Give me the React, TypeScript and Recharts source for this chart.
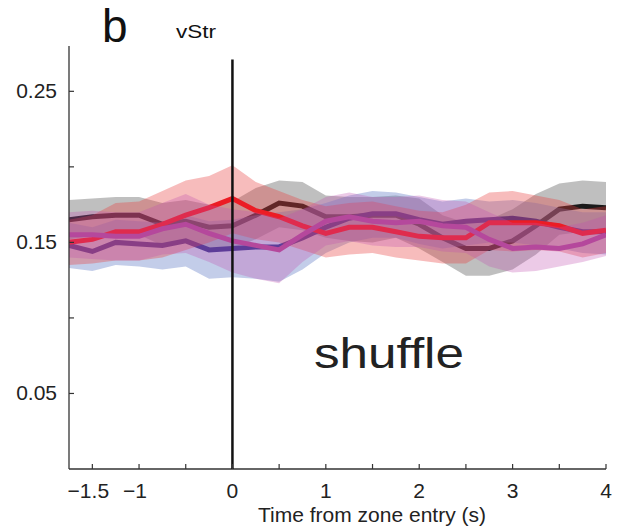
import React from "react"
import { ComposedChart, Area, Line, XAxis, YAxis, ReferenceLine } from "recharts"

// time bins (s from zone entry)
const times = [-1.75, -1.5, -1.25, -1, -0.75, -0.5, -0.25, 0, 0.25, 0.5, 0.75, 1, 1.25, 1.5, 1.75, 2, 2.25, 2.5, 2.75, 3, 3.25, 3.5, 3.75, 4]

// black series + gray band
const blackMean = [0.165, 0.167, 0.168, 0.168, 0.162, 0.164, 0.160, 0.161, 0.168, 0.176, 0.174, 0.167, 0.167, 0.168, 0.168, 0.162, 0.153, 0.146, 0.146, 0.151, 0.161, 0.172, 0.174, 0.173]
const blackHi = [0.178, 0.179, 0.180, 0.180, 0.176, 0.178, 0.175, 0.177, 0.186, 0.191, 0.190, 0.181, 0.180, 0.180, 0.181, 0.179, 0.168, 0.163, 0.165, 0.172, 0.182, 0.189, 0.191, 0.190]
const blackLo = [0.152, 0.154, 0.155, 0.155, 0.148, 0.150, 0.146, 0.146, 0.152, 0.160, 0.158, 0.153, 0.151, 0.150, 0.153, 0.146, 0.137, 0.128, 0.128, 0.132, 0.142, 0.155, 0.157, 0.157]

// blue series
const blueMean = [0.148, 0.144, 0.150, 0.149, 0.148, 0.151, 0.145, 0.146, 0.147, 0.147, 0.153, 0.160, 0.166, 0.169, 0.169, 0.165, 0.162, 0.164, 0.165, 0.166, 0.164, 0.160, 0.157, 0.157]
const blueHi = [0.163, 0.160, 0.165, 0.164, 0.163, 0.168, 0.164, 0.165, 0.168, 0.170, 0.172, 0.176, 0.181, 0.184, 0.183, 0.180, 0.177, 0.179, 0.177, 0.178, 0.176, 0.173, 0.170, 0.170]
const blueLo = [0.133, 0.131, 0.135, 0.134, 0.132, 0.134, 0.126, 0.127, 0.126, 0.124, 0.132, 0.143, 0.150, 0.153, 0.153, 0.149, 0.146, 0.148, 0.150, 0.150, 0.148, 0.146, 0.143, 0.142]

// red series
const redMean = [0.150, 0.152, 0.157, 0.157, 0.162, 0.168, 0.173, 0.179, 0.171, 0.167, 0.161, 0.156, 0.160, 0.160, 0.157, 0.154, 0.153, 0.153, 0.163, 0.163, 0.163, 0.161, 0.156, 0.158]
const redHi = [0.165, 0.168, 0.176, 0.177, 0.184, 0.191, 0.194, 0.201, 0.190, 0.184, 0.178, 0.174, 0.176, 0.177, 0.174, 0.171, 0.170, 0.175, 0.183, 0.184, 0.181, 0.178, 0.172, 0.174]
const redLo = [0.135, 0.136, 0.138, 0.138, 0.140, 0.145, 0.150, 0.156, 0.152, 0.150, 0.145, 0.140, 0.142, 0.143, 0.140, 0.138, 0.136, 0.136, 0.145, 0.144, 0.145, 0.144, 0.140, 0.143]

// magenta series
const magMean = [0.155, 0.155, 0.154, 0.154, 0.159, 0.162, 0.156, 0.151, 0.148, 0.145, 0.155, 0.164, 0.167, 0.164, 0.163, 0.164, 0.161, 0.160, 0.152, 0.146, 0.147, 0.146, 0.149, 0.155]
const magHi = [0.170, 0.171, 0.170, 0.170, 0.176, 0.182, 0.175, 0.172, 0.170, 0.166, 0.172, 0.180, 0.183, 0.180, 0.180, 0.181, 0.178, 0.177, 0.170, 0.163, 0.163, 0.160, 0.163, 0.168]
const magLo = [0.140, 0.139, 0.138, 0.138, 0.142, 0.143, 0.137, 0.130, 0.126, 0.123, 0.137, 0.148, 0.151, 0.148, 0.147, 0.147, 0.144, 0.143, 0.134, 0.130, 0.131, 0.134, 0.137, 0.141]

const xTicks = [-1.5, -1, -0.5, 0, 0.5, 1, 1.5, 2, 2.5, 3, 3.5, 4]
const xLabeled = [-1.5, -1, 0, 1, 2, 3, 4]
const yTicks = [0.05, 0.1, 0.15, 0.2, 0.25]
const yLabeled = [0.05, 0.15, 0.25]

const FONT = '"Liberation Sans", Arial, sans-serif'

const data = times.map((t, i) => ({
  t,
  black: blackMean[i],
  blackBand: [blackLo[i], blackHi[i]],
  blue: blueMean[i],
  blueBand: [blueLo[i], blueHi[i]],
  red: redMean[i],
  redBand: [redLo[i], redHi[i]],
  mag: magMean[i],
  magBand: [magLo[i], magHi[i]],
}))

const fmtMinus = (v: number) => String(v).replace("-", "\u2212")

function XTick(props: any) {
  const { x, y, payload } = props
  const v = payload.value
  return (
    <g>
      <line x1={x} y1={y} x2={x} y2={y - 5} stroke="#333" strokeWidth={1.2} />
      {xLabeled.includes(v) && (
        <text x={x} y={y + 29} dx={v < 0 ? -4 : 0} textAnchor="middle" fontSize={21} fontFamily={FONT} fill="#222">
          {fmtMinus(v)}
        </text>
      )}
    </g>
  )
}

function YTick(props: any) {
  const { x, y, payload } = props
  const v = payload.value
  return (
    <g>
      <line x1={x} y1={y} x2={x + 5} y2={y} stroke="#333" strokeWidth={1.2} />
      {yLabeled.some((l) => Math.abs(l - v) < 1e-9) && (
        <text x={x - 12} y={y + 7} textAnchor="end" fontSize={21} fontFamily={FONT} fill="#222">
          {v.toFixed(2)}
        </text>
      )}
    </g>
  )
}

export default function App() {
  return (
    <div style={{ position: "absolute", left: 0, top: 0, width: 624, height: 527, background: "#fff" }}>
      <ComposedChart width={624} height={527} data={data} margin={{ top: 46, right: 18, bottom: 18, left: 9 }}>
        <Area zIndex={101} type="linear" dataKey="blackBand" stroke="none" fill="#8a8a8a" fillOpacity={0.55} isAnimationActive={false} activeDot={false} />
        <Line zIndex={102} type="linear" dataKey="black" stroke="#1a1a1a" strokeWidth={5} dot={false} activeDot={false} isAnimationActive={false} />
        <Area zIndex={103} type="linear" dataKey="blueBand" stroke="none" fill="#6a82c8" fillOpacity={0.4} isAnimationActive={false} activeDot={false} />
        <Line zIndex={104} type="linear" dataKey="blue" stroke="#33348f" strokeWidth={5} dot={false} activeDot={false} isAnimationActive={false} />
        <Area zIndex={105} type="linear" dataKey="redBand" stroke="none" fill="#e84040" fillOpacity={0.35} isAnimationActive={false} activeDot={false} />
        <Line zIndex={106} type="linear" dataKey="red" stroke="#ec1c24" strokeWidth={5} dot={false} activeDot={false} isAnimationActive={false} />
        <Area zIndex={107} type="linear" dataKey="magBand" stroke="none" fill="#c050b0" fillOpacity={0.3} isAnimationActive={false} activeDot={false} />
        <Line zIndex={108} type="linear" dataKey="mag" stroke="#b5489c" strokeWidth={5} dot={false} activeDot={false} isAnimationActive={false} />
        <ReferenceLine
          zIndex={600}
          segment={[{ x: 0, y: 0 }, { x: 0, y: 0.271 }]}
          stroke="#111"
          strokeWidth={2.5}
        />
        <XAxis
          dataKey="t"
          type="number"
          domain={[-1.75, 4]}
          ticks={xTicks}
          interval={0}
          height={40}
          tickSize={0}
          tickMargin={0}
          tickLine={false}
          axisLine={{ stroke: "#333", strokeWidth: 1.3 }}
          tick={<XTick />}
          allowDataOverflow
        />
        <YAxis
          type="number"
          domain={[0, 0.28]}
          ticks={yTicks}
          interval={0}
          width={60}
          tickSize={0}
          tickMargin={0}
          tickLine={false}
          axisLine={{ stroke: "#333", strokeWidth: 1.3 }}
          tick={<YTick />}
          allowDataOverflow
        />
      </ComposedChart>
      <svg width={624} height={527} style={{ position: "absolute", left: 0, top: 0, pointerEvents: "none" }}>
        <text x={102} y={42} fontSize={46} fontFamily={FONT} fill="#111">b</text>
        <text x={176} y={38} fontSize={19} textLength={40} lengthAdjust="spacingAndGlyphs" fontFamily={FONT} fill="#111">vStr</text>
        <text x={314} y={368} fontSize={42} textLength={150} lengthAdjust="spacingAndGlyphs" fontFamily={FONT} fill="#222">shuffle</text>
        <text x={372} y={522} textAnchor="middle" fontSize={21} fontFamily={FONT} fill="#222">Time from zone entry (s)</text>
      </svg>
    </div>
  )
}
